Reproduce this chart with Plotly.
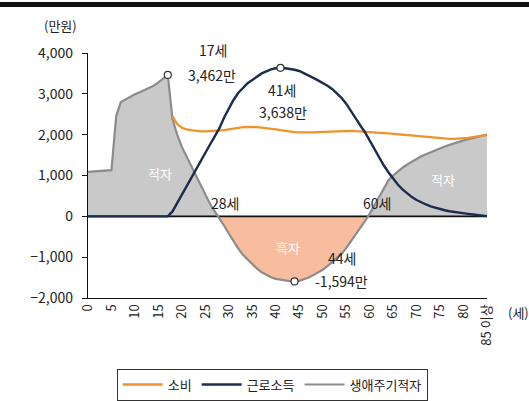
import plotly.graph_objects as go

# 연령 (0세 ~ 85세 이상)
ages = list(range(0, 86))
tick_vals = list(range(0, 86, 5))
tick_text = [str(v) for v in tick_vals[:-1]] + ["85 이상"]

# 1인당 소비 (만원), 18세부터 표시
consumption = [None] * 18 + [
    2450, 2260, 2170, 2130, 2110, 2090, 2080, 2080, 2085, 2095,   # 18-27
    2100, 2110, 2130, 2150, 2170, 2185, 2190, 2190, 2185, 2170,   # 28-37
    2160, 2150, 2130, 2110, 2090, 2070, 2060, 2055, 2050, 2050,   # 38-47
    2055, 2060, 2065, 2075, 2085, 2095, 2100, 2100, 2095, 2085,   # 48-57
    2080, 2075, 2065, 2060, 2050, 2040, 2030, 2020, 2005, 1990,   # 58-67
    1980, 1970, 1960, 1950, 1940, 1925, 1915, 1905, 1900, 1895,   # 68-77
    1895, 1900, 1905, 1920, 1940, 1960, 1980, 1995,               # 78-85
]

# 1인당 근로소득 (만원)
labor_income = [0] * 18 + [
    120, 330, 540, 750, 950, 1150, 1360, 1560, 1760, 1960,        # 18-27
    2160, 2420, 2650, 2850, 3020, 3150, 3260, 3340, 3430, 3500,   # 28-37
    3550, 3600, 3625, 3638, 3625, 3610, 3590, 3560, 3510, 3450,   # 38-47
    3390, 3330, 3270, 3200, 3120, 3020, 2900, 2760, 2580, 2380,   # 48-57
    2230, 2060, 1850, 1640, 1440, 1250, 1080, 920, 780, 660,      # 58-67
    560, 470, 400, 340, 290, 245, 210, 180, 150, 125,             # 68-77
    105, 90, 75, 60, 45, 30, 15, 5,                               # 78-85
]

# 생애주기 적자 (만원)
lifecycle_deficit = [
    1090, 1100, 1105, 1110, 1120, 1130, 2450, 2800, 2860, 2930,   # 0-9
    2990, 3040, 3090, 3140, 3200, 3280, 3360, 3462, 2380, 2000,   # 10-19
    1700, 1470, 1230, 1000, 760, 530, 300, 120, -40, -230,        # 20-29
    -420, -610, -790, -940, -1060, -1170, -1280, -1370, -1440, -1490,  # 30-39
    -1530, -1555, -1570, -1585, -1594, -1580, -1545, -1500, -1440, -1380,  # 40-49
    -1310, -1220, -1120, -1020, -920, -780, -620, -460, -300, -120,  # 50-59
    60, 260, 480, 680, 880, 1000, 1100, 1190, 1270, 1340,         # 60-69
    1410, 1470, 1520, 1570, 1620, 1670, 1710, 1750, 1790, 1830,   # 70-79
    1860, 1890, 1920, 1950, 1980, 2000,                           # 80-85
]

# 주요 지점: (연령, 값)
peak_deficit = (17, 3462)
peak_income = (41, 3638)
peak_surplus = (44, -1594)

C_CONS = "#f0922b"
C_INC = "#1c2c4c"
C_DEF = "#8c8c8c"
FILL_DEF = "#c9c9c9"
FILL_SUR = "#f8bd9f"
FONT = "Noto Sans CJK KR"

fig = go.Figure()

# 적자(회색) / 흑자(살구색) 영역
fig.add_trace(go.Scatter(
    x=ages, y=[max(v, 0) for v in lifecycle_deficit], mode="lines",
    line=dict(width=0), fill="tozeroy", fillcolor=FILL_DEF,
    showlegend=False, hoverinfo="skip"))
fig.add_trace(go.Scatter(
    x=ages, y=[min(v, 0) for v in lifecycle_deficit], mode="lines",
    line=dict(width=0), fill="tozeroy", fillcolor=FILL_SUR,
    showlegend=False, hoverinfo="skip"))

# 0 기준선
fig.add_trace(go.Scatter(
    x=[ages[0], ages[-1]], y=[0, 0], mode="lines",
    line=dict(color="#111111", width=1.6),
    showlegend=False, hoverinfo="skip"))

fig.add_trace(go.Scatter(
    x=ages, y=lifecycle_deficit, mode="lines", name="생애주기적자",
    line=dict(color=C_DEF, width=2.2), legendrank=3))
fig.add_trace(go.Scatter(
    x=ages, y=consumption, mode="lines", name="소비",
    line=dict(color=C_CONS, width=2.3), legendrank=1))
fig.add_trace(go.Scatter(
    x=ages, y=labor_income, mode="lines", name="근로소득",
    line=dict(color=C_INC, width=2.4), legendrank=2))

# 정점 표시 (흰 원)
pts = [peak_deficit, peak_income, peak_surplus]
fig.add_trace(go.Scatter(
    x=[p[0] for p in pts], y=[p[1] for p in pts], mode="markers",
    marker=dict(size=7, color="white", line=dict(color="#333333", width=1.2)),
    showlegend=False, hoverinfo="skip", cliponaxis=False))

def note(x, y, text, color="#222222", size=14, yshift=0):
    fig.add_annotation(x=x, y=y, xref="x", yref="y", text=text, showarrow=False,
                       yshift=yshift,
                       font=dict(family=FONT, size=size, color=color))

note(26.6, peak_deficit[1], f"{peak_deficit[0]}세", yshift=25)
note(26.4, peak_deficit[1], f"{peak_deficit[1]:,}만")
note(41.3, 3094, f"{peak_income[0]}세")
note(41.5, 2555, f"{peak_income[1]:,}만")
note(29.2, 326, "28세")
note(61.6, 326, "60세")
note(54.1, -1020, f"{peak_surplus[0]}세")
note(53.9, peak_surplus[1], f"-{abs(peak_surplus[1]):,}만")
note(15.3, 1061, "적자", color="white", size=13)
note(75.6, 890, "적자", color="white", size=13)
note(42.6, -751, "흑자", color="white", size=13)

# 단위 표시
fig.add_annotation(x=-0.068, y=1.114, xref="paper", yref="paper", text="(만원)",
                   xanchor="center", yanchor="middle",
                   showarrow=False, font=dict(family=FONT, size=13, color="#222222"))
fig.add_annotation(x=1.078, y=-0.061, xref="paper", yref="paper", text="(세)",
                   xanchor="center", yanchor="middle",
                   showarrow=False, font=dict(family=FONT, size=13, color="#222222"))

# 상단 굵은 선
fig.add_shape(type="line", xref="paper", yref="paper", x0=-0.25, x1=1.15,
              y0=1.198, y1=1.198, line=dict(color="#111111", width=5))

fig.update_layout(
    width=529, height=401,
    margin=dict(l=88, r=42, t=53, b=103, autoexpand=False),
    paper_bgcolor="white", plot_bgcolor="white",
    font=dict(family=FONT, size=14, color="#222222"),
    showlegend=True,
    legend=dict(orientation="h", x=0.072, xanchor="left", y=-0.288, yanchor="top",
                bordercolor="#333333", borderwidth=1, font=dict(size=13),
                itemwidth=40, traceorder="normal"),
)
fig.update_xaxes(range=[0, 85], tickvals=tick_vals, ticktext=tick_text, tickangle=-90,
                 showline=True, linecolor="#111111", linewidth=1.4, showgrid=False,
                 zeroline=False, ticks="", tickfont=dict(size=13), automargin=False)
fig.update_yaxes(range=[-2000, 4000], tickvals=list(range(-2000, 4001, 1000)),
                 tickformat=",d", showline=True, linecolor="#111111", linewidth=1.4,
                 showgrid=False, zeroline=False, ticks="outside", ticklen=5,
                 tickcolor="#111111", ticklabelstandoff=6, tickfont=dict(size=14),
                 automargin=False)

fig.write_html("out.html")
